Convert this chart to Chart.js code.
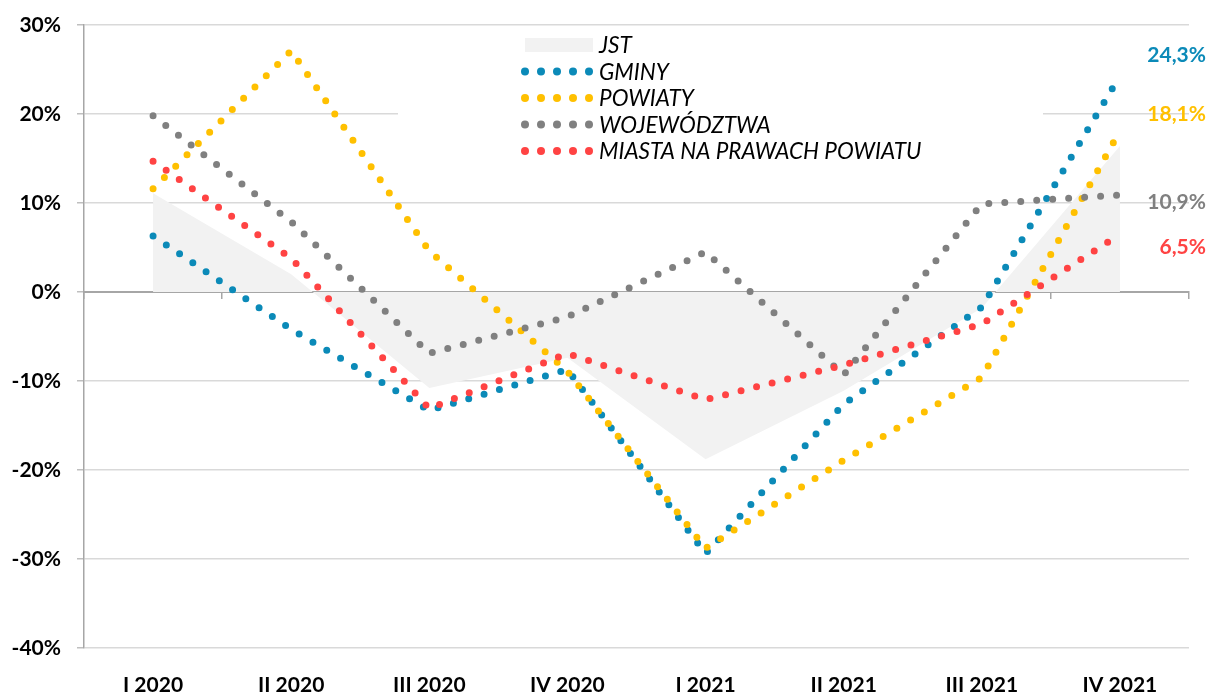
<!DOCTYPE html>
<html lang="pl">
<head>
    <meta charset="UTF-8">
    <title>JST - dynamika</title>
    <script src="https://cdn.jsdelivr.net/npm/chart.js"></script>
    <style>
        body {
            margin: 0;
            background: #ffffff;
        }
        #chart {
            display: block;
        }
    </style>
</head>
<body>
    <canvas id="chart" width="1208" height="693"></canvas>

    <script>
        // data (percent, y/y)
        const categories = ['I 2020', 'II 2020', 'III 2020', 'IV 2020', 'I 2021', 'II 2021', 'III 2021', 'IV 2021'];
        const jst = [11.1, 2.0, -10.8, -7.4, -18.8, -11.1, -1.8, 16.4];
        const gminy = [6.3, -4.2, -13.3, -8.7, -29.4, -12.6, -1.7, 24.3];
        const powiaty = [11.6, 27.1, 4.6, -8.9, -28.8, -18.9, -9.6, 18.1];
        const wojewodztwa = [19.8, 7.9, -6.9, -2.8, 4.5, -9.3, 9.9, 10.9];
        const miasta = [14.7, 3.8, -13.1, -6.9, -12.1, -8.2, -3.6, 6.5];
        const yTicks = [-40, -30, -20, -10, 0, 10, 20, 30];

        const FONT = 'Lato, "Liberation Sans", sans-serif';

        function dotted(label, data, color, order) {
            return {
                label: label,
                data: data,
                borderColor: color,
                backgroundColor: color,
                borderWidth: 7,
                borderCapStyle: 'round',
                borderDash: [0, 16],
                pointRadius: 0,
                tension: 0,
                fill: false,
                order: order
            };
        }

        // white box behind the legend + legend itself
        const legendBox = {
            id: 'legendBox',
            beforeDatasetsDraw(chart) {
                const ctx = chart.ctx;
                ctx.save();
                ctx.fillStyle = '#ffffff';
                ctx.fillRect(398, 30, 645, 138);
                ctx.restore();
            },
            afterDatasetsDraw(chart) {
                const ctx = chart.ctx;
                const ds = chart.data.datasets;
                ctx.save();
                ctx.font = 'italic 22.5px ' + FONT;
                ctx.textBaseline = 'middle';
                let y = 45;
                ds.forEach(function (d, i) {
                    if (i === 0) {
                        ctx.fillStyle = d.backgroundColor;
                        ctx.fillRect(525, y - 7, 68, 14);
                    } else {
                        ctx.fillStyle = d.borderColor;
                        for (let k = 0; k < 5; k++) {
                            ctx.beginPath();
                            ctx.arc(525 + k * 16, y, 4, 0, Math.PI * 2);
                            ctx.fill();
                        }
                    }
                    ctx.fillStyle = '#000000';
                    ctx.fillText(d.label, 599, y + 1);
                    y += 26.5;
                });
                ctx.restore();
            }
        };

        // value labels at the right end
        const endLabels = {
            id: 'endLabels',
            afterDatasetsDraw(chart) {
                const ctx = chart.ctx;
                const yScale = chart.scales.y;
                const shift = [0, -20, -17, 7, 13];
                ctx.save();
                ctx.font = 'bold 21px ' + FONT;
                ctx.textAlign = 'right';
                ctx.textBaseline = 'middle';
                chart.data.datasets.forEach(function (d, i) {
                    if (i === 0) return;
                    const v = d.data[d.data.length - 1];
                    const py = yScale.getPixelForValue(v) + shift[i];
                    ctx.fillStyle = d.borderColor;
                    ctx.fillText(v.toFixed(1).replace('.', ',') + '%', 1206, py);
                });
                ctx.restore();
            }
        };

        const ctx = document.getElementById('chart').getContext('2d');
        const chart = new Chart(ctx, {
            type: 'line',
            data: {
                labels: categories,
                datasets: [
                    {
                        label: 'JST',
                        data: jst,
                        borderWidth: 0,
                        borderColor: 'rgba(0,0,0,0)',
                        backgroundColor: '#f2f2f2',
                        pointRadius: 0,
                        fill: 'origin',
                        tension: 0,
                        order: 5
                    },
                    dotted('GMINY', gminy, '#0b8ab8', 4),
                    dotted('POWIATY', powiaty, '#ffc000', 3),
                    dotted('WOJEWÓDZTWA', wojewodztwa, '#808080', 2),
                    dotted('MIASTA NA PRAWACH POWIATU', miasta, '#ff4343', 1)
                ]
            },
            options: {
                responsive: false,
                animation: false,
                devicePixelRatio: 1,
                layout: {
                    padding: { top: 25, right: 19, bottom: 0, left: 0 }
                },
                plugins: {
                    legend: { display: false },
                    tooltip: { enabled: false }
                },
                scales: {
                    x: {
                        type: 'category',
                        offset: true,
                        grid: { display: false },
                        border: { display: false },
                        ticks: {
                            color: '#000000',
                            font: { family: FONT, size: 21, weight: 'bold' },
                            padding: 17,
                            maxRotation: 0
                        },
                        afterFit(scale) { scale.height = 45; }
                    },
                    x2: {
                        type: 'category',
                        position: { y: 0 },
                        offset: true,
                        grid: {
                            offset: true,
                            drawOnChartArea: false,
                            drawTicks: true,
                            tickLength: 6,
                            color: '#a6a6a6',
                            lineWidth: 1.5
                        },
                        border: { display: true, color: '#a6a6a6', width: 2 },
                        ticks: { display: false }
                    },
                    y: {
                        min: -40,
                        max: 30,
                        afterBuildTicks(scale) {
                            scale.ticks = yTicks.map(v => ({ value: v }));
                        },
                        grid: {
                            color: '#d9d9d9',
                            lineWidth: 1.5,
                            tickLength: 7,
                            tickColor: '#bfbfbf'
                        },
                        border: { display: true, color: '#a6a6a6', width: 1.5 },
                        ticks: {
                            color: '#000000',
                            font: { family: FONT, size: 21, weight: 'bold' },
                            padding: 16,
                            callback: v => v + '%'
                        },
                        afterFit(scale) {
                            scale.width = 84;
                            scale.paddingTop = 0;
                            scale.paddingBottom = 0;
                        }
                    }
                }
            },
            plugins: [legendBox, endLabels]
        });
    </script>
</body>
</html>
